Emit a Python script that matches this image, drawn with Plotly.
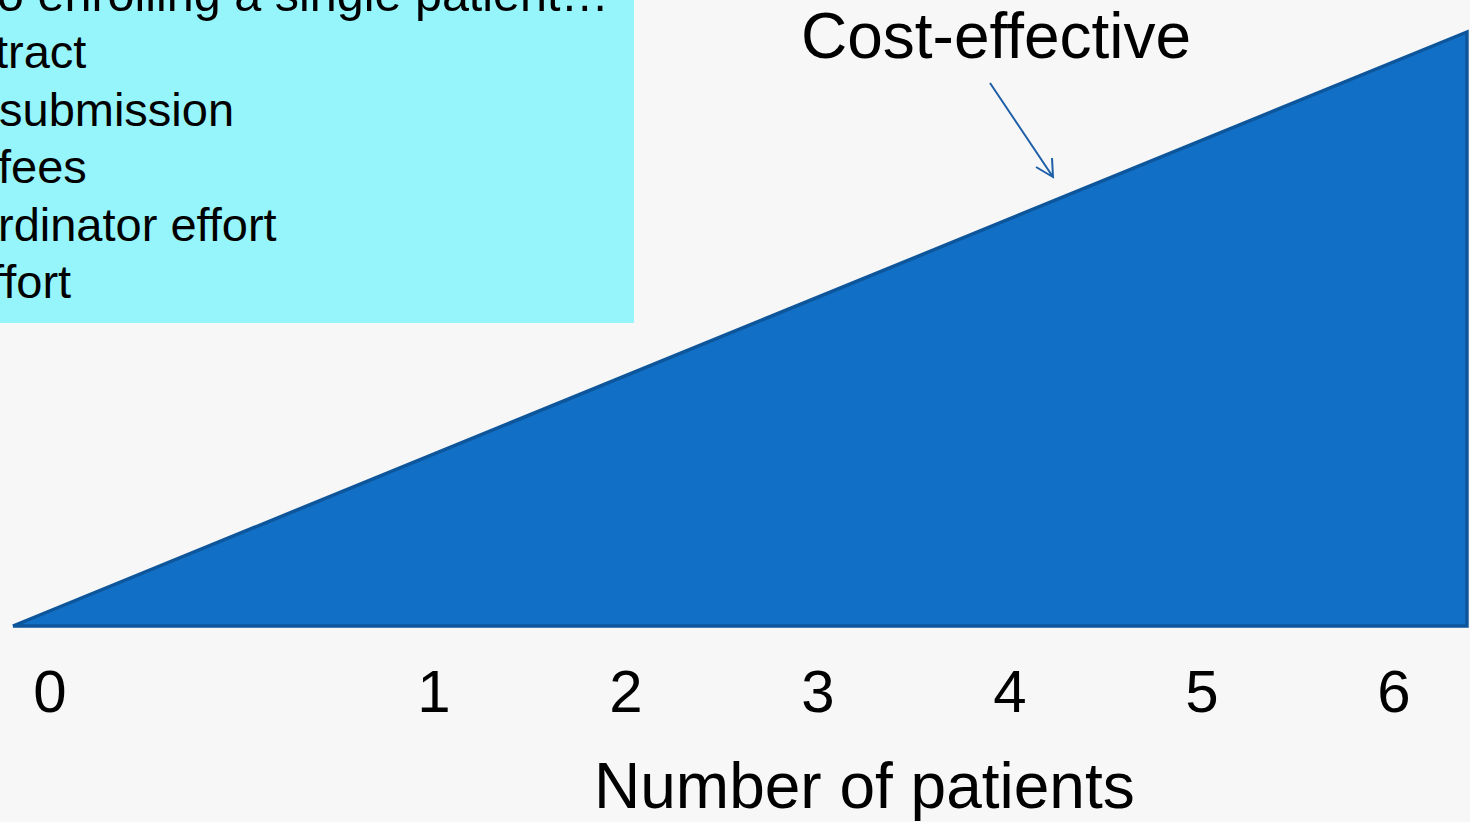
import plotly.graph_objects as go

# ---- data -------------------------------------------------------------
# Number of patients along the horizontal axis (axis is broken between 0 and 1)
patients = [0, 1, 2, 3, 4, 5, 6]
patient_labels = ["0", "1", "2", "3", "4", "5", "6"]

# Cost-effectiveness wedge, in axis units (x) and relative value (y)
wedge_x = [-0.193, 7.380, 7.380, -0.193]
wedge_y = [0.0, 0.0, 1.0, 0.0]

# Start-up cost list in the corner box
cost_lines = [
    "o enrolling a single patient…",
    "tract",
    "submission",
    "fees",
    "rdinator effort",
    "ffort",
]

# ---- geometry ---------------------------------------------------------
W, H = 1470, 822
Y_AX = 651                       # pixel row of the x axis (bottom of plot area)
PX0, PX_UNIT = 50.0, 192.0       # pixel of axis position 0, pixels per unit
Y0_PX, Y1_PX = 626.0, 32.0       # pixel rows for value 0 and value 1

x_range = [(0 - PX0) / PX_UNIT, (W - PX0) / PX_UNIT]
y_unit = Y0_PX - Y1_PX
y_range = [-(Y_AX - Y0_PX) / y_unit, Y0_PX / y_unit]

# axis break: everything after 0 is shifted by one unit
tick_pos = [p + (1 if p > 0 else 0) for p in patients]


def px(xp):
    return xp / W


def py(yp):
    return (Y_AX - yp) / Y_AX


FONT = "Liberation Sans, Arial, sans-serif"
FILL = "#1170C5"
EDGE = "#0E569C"
ARROW = "#1D5FA8"

fig = go.Figure()

fig.add_trace(
    go.Scatter(
        x=wedge_x,
        y=wedge_y,
        mode="lines",
        fill="toself",
        fillcolor=FILL,
        line=dict(color=EDGE, width=3.5),
        hoverinfo="skip",
        showlegend=False,
    )
)

shapes = [
    # cyan text box
    dict(
        type="rect", xref="paper", yref="paper",
        x0=px(-5), x1=px(634), y0=py(323), y1=py(-5),
        fillcolor="#96F5FA", line=dict(width=0), layer="below",
    ),
    # arrow shaft and open head
    dict(
        type="path", xref="paper", yref="paper",
        path=(
            f"M {px(990)} {py(83)} L {px(1053)} {py(177)} "
            f"M {px(1036)} {py(167)} L {px(1053)} {py(177)} L {px(1052)} {py(158)}"
        ),
        line=dict(color=ARROW, width=2),
    ),
]

annotations = [
    dict(
        text="Cost-effective", xref="paper", yref="paper",
        x=px(996), y=py(58 - 0.35 * 64), xanchor="center", yanchor="middle",
        showarrow=False, borderpad=0,
        font=dict(family=FONT, size=64, color="#000000"),
    ),
    dict(
        text="Number of patients", xref="paper", yref="paper",
        x=px(864), y=py(808 - 0.35 * 64), xanchor="center", yanchor="middle",
        showarrow=False, borderpad=0,
        font=dict(family=FONT, size=64, color="#000000"),
    ),
]

line_starts = [-4, -6, -2, -3, -3, -10]
line_sizes = [48.5, 47, 47, 47, 47, 47]
line_baselines = [10.5, 68, 126, 183, 241, 298]
for txt, x0, fs, base in zip(cost_lines, line_starts, line_sizes, line_baselines):
    annotations.append(
        dict(
            text=txt, xref="paper", yref="paper",
            x=px(x0), y=py(base - 0.35 * fs), xanchor="left", yanchor="middle",
            showarrow=False, borderpad=0,
            font=dict(family=FONT, size=fs, color="#000000"),
        )
    )

fig.update_layout(
    width=W,
    height=H,
    margin=dict(l=0, r=0, t=0, b=H - Y_AX, pad=0),
    paper_bgcolor="#F7F7F7",
    plot_bgcolor="rgba(0,0,0,0)",
    showlegend=False,
    shapes=shapes,
    annotations=annotations,
    xaxis=dict(
        range=x_range,
        tickmode="array",
        tickvals=tick_pos,
        ticktext=patient_labels,
        ticks="",
        showgrid=False,
        zeroline=False,
        showline=False,
        tickfont=dict(family=FONT, size=60, color="#000000"),
        fixedrange=True,
    ),
    yaxis=dict(
        range=y_range,
        showticklabels=False,
        showgrid=False,
        zeroline=False,
        showline=False,
        fixedrange=True,
    ),
)

fig.write_html("out.html", config={"displayModeBar": False})
